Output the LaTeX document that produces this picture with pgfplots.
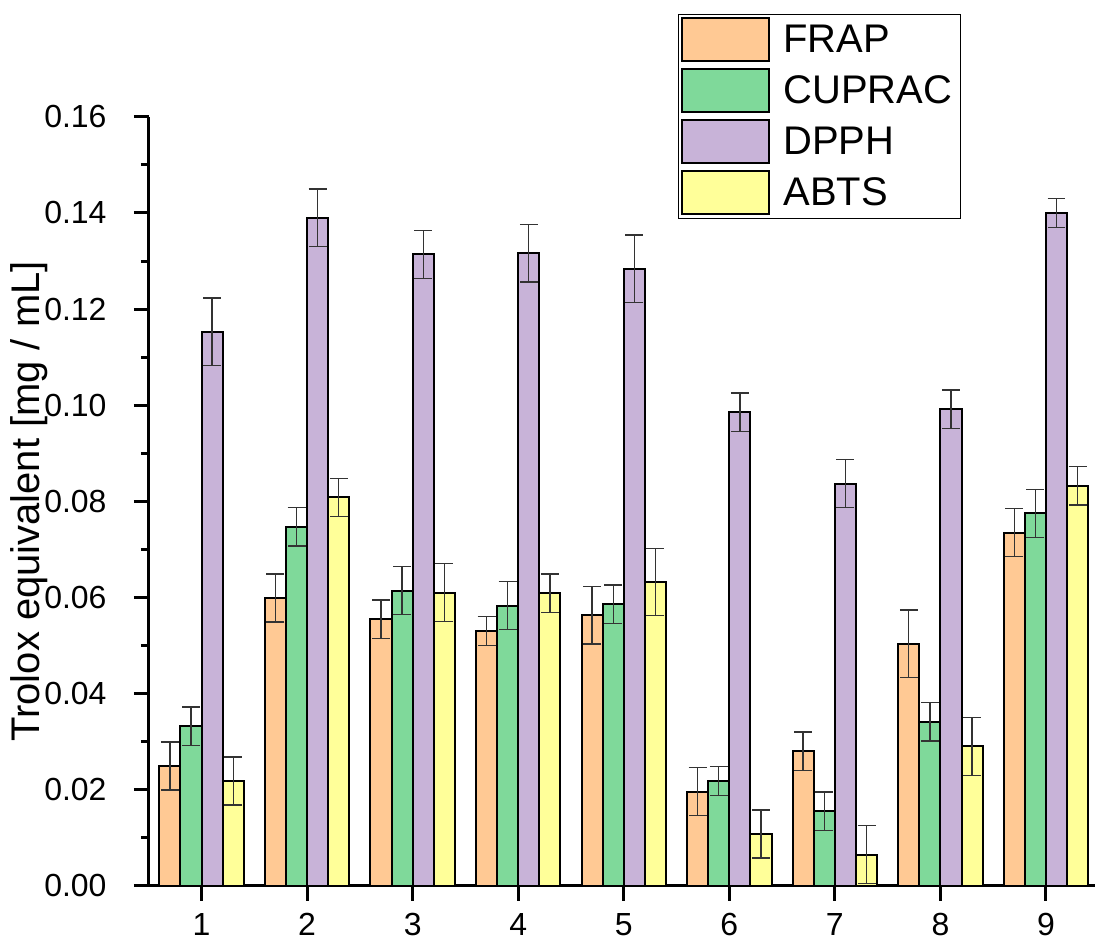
\documentclass[border=0pt]{standalone}
\usepackage{pgfplots}
\pgfplotsset{compat=1.18}
\usepackage{fontspec}
\setmainfont{Liberation Sans}
\definecolor{cfrap}{HTML}{FFC994}
\definecolor{ccup}{HTML}{7FD99A}
\definecolor{cdpph}{HTML}{C8B3D8}
\definecolor{cabts}{HTML}{FFFF99}
\definecolor{cerr}{HTML}{333333}
\begin{document}
\begin{tikzpicture}
\path (-74.5pt,-28pt) rectangle (473.5pt,443.5pt);
\begin{axis}[
  at={(0,0)}, anchor=south west,
  scale only axis,
  width=473.5pt, height=385pt,
  xmin=0.5, xmax=9.46,
  ymin=0, ymax=0.16,
  axis lines*=left,
  axis line style={line width=1.5pt},
  every tick/.style={black, line width=1.5pt},
  tick align=outside,
  major tick length=7.5pt,
  minor tick length=4pt,
  xtick={1,...,9},
  ytick={0,0.02,...,0.16},
  minor y tick num=1,
  /pgf/number format/assume math mode=true,
  yticklabel style={/pgf/number format/.cd, fixed, fixed zerofill, precision=2},
  ticklabel style={font=\fontsize{16}{19}\selectfont, inner sep=0pt},
  xticklabel shift=6pt,
  yticklabel shift=13.5pt,
  ylabel={Trolox equivalent [mg / mL]},
  ylabel style={font=\fontsize{20}{24}\selectfont, at={(axis description cs:0,0.5)}, anchor=center, rotate=0, yshift=60pt},
  ybar,
  bar width=0.2,
  every axis plot/.append style={draw=black, line width=1pt},
  error bars/y dir=both, error bars/y explicit,
  error bars/error bar style={cerr, line width=0.7pt},
  error bars/error mark options={rotate=90, mark size=4.5pt, cerr, line width=0.7pt},
  legend style={at={(0.5597,1.1338)}, anchor=north west, draw=black, line width=0.5pt,
    font=\fontsize{20}{24}\selectfont, row sep=3pt, inner xsep=1pt, inner ysep=1.5pt,
    nodes={inner xsep=3pt, inner ysep=1.5pt}},
  legend cell align=left,
  legend image code/.code={\draw[#1, line width=1pt] (0pt,-10.75pt) rectangle (44pt,10.75pt); \path[draw=none, fill=none] (0pt,0pt) -- (48pt,0pt);},
]
\addplot[fill=cfrap, bar shift=-0.3] coordinates {
 (1,0.0249) +- (0,0.005)
 (2,0.0599) +- (0,0.005)
 (3,0.0555) +- (0,0.004)
 (4,0.0530) +- (0,0.003)
 (5,0.0563) +- (0,0.006)
 (6,0.0196) +- (0,0.005)
 (7,0.0280) +- (0,0.004)
 (8,0.0504) +- (0,0.007)
 (9,0.0735) +- (0,0.005)
};
\addlegendentry{FRAP}
\addplot[fill=ccup, bar shift=-0.1] coordinates {
 (1,0.0332) +- (0,0.004)
 (2,0.0747) +- (0,0.004)
 (3,0.0614) +- (0,0.005)
 (4,0.0583) +- (0,0.005)
 (5,0.0586) +- (0,0.004)
 (6,0.0218) +- (0,0.003)
 (7,0.0155) +- (0,0.004)
 (8,0.0341) +- (0,0.004)
 (9,0.0775) +- (0,0.005)
};
\addlegendentry{CUPRAC}
\addplot[fill=cdpph, bar shift=0.1] coordinates {
 (1,0.1153) +- (0,0.007)
 (2,0.1390) +- (0,0.006)
 (3,0.1314) +- (0,0.005)
 (4,0.1316) +- (0,0.006)
 (5,0.1284) +- (0,0.007)
 (6,0.0985) +- (0,0.004)
 (7,0.0837) +- (0,0.005)
 (8,0.0992) +- (0,0.004)
 (9,0.1400) +- (0,0.003)
};
\addlegendentry{DPPH}
\addplot[fill=cabts, bar shift=0.3] coordinates {
 (1,0.0218) +- (0,0.005)
 (2,0.0808) +- (0,0.004)
 (3,0.0610) +- (0,0.006)
 (4,0.0609) +- (0,0.004)
 (5,0.0632) +- (0,0.007)
 (6,0.0108) +- (0,0.005)
 (7,0.0065) +- (0,0.006)
 (8,0.0290) +- (0,0.006)
 (9,0.0832) +- (0,0.004)
};
\addlegendentry{ABTS}
\end{axis}
\end{tikzpicture}
\end{document}
